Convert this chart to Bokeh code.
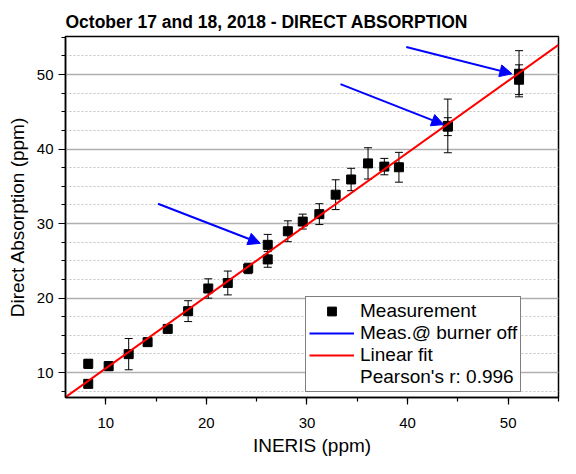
import numpy as np
from bokeh.plotting import figure
from bokeh.models import (ColumnDataSource, Whisker, TeeHead, Arrow, NormalHead,
                          Range1d, SingleIntervalTicker, Legend, LegendItem)
from bokeh.embed import file_html
from bokeh.resources import INLINE

# ---- data ----
ineris = [8.26, 8.26, 10.29, 12.28, 14.16, 16.16, 18.19, 20.19, 22.13, 24.16,
          26.10, 26.10, 28.10, 29.58, 31.23, 32.85, 34.39, 36.07, 37.69, 39.14,
          44.00, 44.00, 51.08, 51.08]
direct = [8.48, 11.17, 10.86, 12.47, 14.08, 15.86, 18.24, 21.28, 22.02, 23.97,
          25.18, 27.14, 28.96, 30.26, 31.26, 33.87, 35.91, 38.07, 37.64, 37.55,
          43.10, 43.00, 50.10, 49.30]
direct_err = [0.5, 0.6, 0.6, 2.1, 0.4, 0.5, 1.4, 1.3, 1.6, 0.7,
              1.05, 1.4, 1.4, 1.0, 1.4, 2.0, 1.5, 2.1, 1.1, 2.0,
              3.6, 1.2, 3.1, 2.0]

# arrows marking "measurement @ burner off"
arrow_x_start = [15.19, 33.33, 39.87]
arrow_y_start = [32.66, 48.71, 53.70]
arrow_x_end = [25.36, 43.59, 50.37]
arrow_y_end = [27.34, 43.28, 50.10]

fit_slope = 0.965
fit_intercept = 0.90
pearson_r = 0.996

x_range = (6, 55)
y_range = (6.65, 55.1)
x_ticks = [10, 20, 30, 40, 50]
y_ticks = [10, 20, 30, 40, 50]

FONT = "Liberation Sans"

p = figure(width=560, height=458, output_backend="svg", toolbar_location=None,
           x_range=Range1d(*x_range), y_range=Range1d(*y_range),
           min_border_left=65, min_border_right=2, min_border_top=36,
           min_border_bottom=60)

p.title.text = "October 17 and 18, 2018 - DIRECT ABSORPTION"
p.title.text_font = FONT
p.title.text_font_size = "17.5px"
p.title.text_font_style = "bold"
p.title.align = "left"
p.title.text_color = "black"

p.outline_line_color = "black"
p.outline_line_width = 1.5
p.outline_line_alpha = 1.0

# axes
p.xaxis.ticker = SingleIntervalTicker(interval=10, num_minor_ticks=2)
p.yaxis.ticker = SingleIntervalTicker(interval=10, num_minor_ticks=4)
p.xaxis.major_label_overrides = {t: str(t) for t in x_ticks}
p.yaxis.major_label_overrides = {t: str(t) for t in y_ticks}
p.xaxis.axis_label = "INERIS (ppm)"
p.yaxis.axis_label = "Direct Absorption (ppm)"
for ax in (p.xaxis, p.yaxis):
    ax.axis_line_color = "black"
    ax.axis_line_width = 1.5
    ax.major_tick_line_color = "black"
    ax.minor_tick_line_color = "black"
    ax.major_tick_line_width = 1.2
    ax.minor_tick_line_width = 1.2
    ax.major_tick_out = 7
    ax.major_tick_in = 0
    ax.minor_tick_out = 4
    ax.minor_tick_in = 0
    ax.major_label_text_font = FONT
    ax.major_label_text_font_size = "15px"
    ax.major_label_text_color = "black"
    ax.axis_label_text_font = FONT
    ax.axis_label_text_font_size = "19px"
    ax.axis_label_text_font_style = "normal"
    ax.axis_label_text_color = "black"
p.xaxis.major_label_standoff = 13
p.xaxis.axis_label_standoff = 4
p.yaxis.major_label_standoff = 5
p.yaxis.axis_label_standoff = 6

# grid
p.xgrid.visible = False
p.ygrid.grid_line_color = "#b0b0b0"
p.ygrid.grid_line_width = 1.5
p.ygrid.minor_grid_line_color = "#c4c4c4"
p.ygrid.minor_grid_line_dash = "2 2"
p.ygrid.minor_grid_line_width = 1

# data
src = ColumnDataSource(dict(
    x=ineris, y=direct,
    upper=[v + e for v, e in zip(direct, direct_err)],
    lower=[v - e for v, e in zip(direct, direct_err)],
))

whisk = Whisker(source=src, base="x", upper="upper", lower="lower",
                dimension="height", line_color="black", line_width=1,
                upper_head=TeeHead(size=8, line_color="black", line_width=1),
                lower_head=TeeHead(size=8, line_color="black", line_width=1))
p.add_layout(whisk)

meas = p.scatter("x", "y", source=src, marker="square", size=9,
                 fill_color="black", line_color="black")

# linear fit
fx = np.array(x_range, dtype=float)
fy = fit_slope * fx + fit_intercept
fit = p.line(fx, fy, line_color="red", line_width=2)

# arrows
asrc = ColumnDataSource(dict(xs=arrow_x_start, ys=arrow_y_start,
                             xe=arrow_x_end, ye=arrow_y_end))
p.add_layout(Arrow(source=asrc, x_start="xs", y_start="ys", x_end="xe", y_end="ye",
                   line_color="blue", line_width=2,
                   end=NormalHead(size=12, fill_color="blue", line_color="blue")))

# legend-only renderers (NaN data: nothing drawn in the plot area)
nan2 = [float("nan"), float("nan")]
arr_line = p.line(nan2, nan2, line_color="blue", line_width=2)
blank = p.line(nan2, nan2, line_alpha=0)

legend = Legend(items=[
    LegendItem(label="Measurement", renderers=[meas]),
    LegendItem(label="Meas.@ burner off", renderers=[arr_line]),
    LegendItem(label="Linear fit", renderers=[fit]),
    LegendItem(label="Pearson's r: %.3f" % pearson_r, renderers=[blank]),
], location=(240, 5))
legend.label_text_font = FONT
legend.label_text_font_size = "19px"
legend.label_text_color = "black"
legend.glyph_width = 45
legend.glyph_height = 22
legend.label_height = 22
legend.label_standoff = 6
legend.spacing = 0
legend.padding = 3
legend.margin = 0
legend.border_line_color = "black"
legend.border_line_width = 1
legend.background_fill_alpha = 1
p.add_layout(legend)

open("out.html", "w").write(file_html(p, INLINE))
